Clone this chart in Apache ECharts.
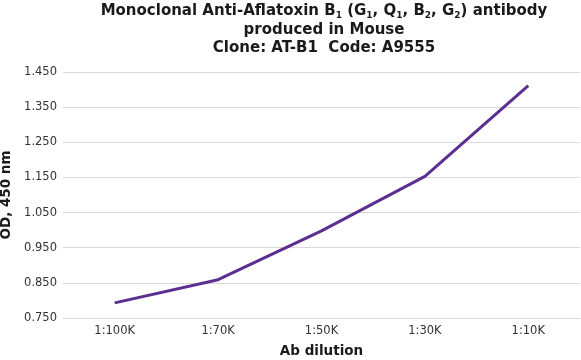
<!DOCTYPE html>
<html>
<head>
<meta charset="utf-8">
<script src="https://cdn.jsdelivr.net/npm/echarts@6/dist/echarts.min.js"></script>
<style>html,body{margin:0;padding:0;background:#fff}#c{width:581px;height:360px}</style>
</head>
<body>
<div id="c"></div>
<script>
var categories = ['1:100K', '1:70K', '1:50K', '1:30K', '1:10K'];
var odValues = [0.793, 0.859, 0.998, 1.153, 1.411];
var yMin = 0.75, yMax = 1.45, yStep = 0.1;

var chart = echarts.init(document.getElementById('c'), null, {renderer: 'canvas'});
var F = '"DejaVu Sans", Verdana, sans-serif';
var tStyle = {
  fontFamily: F, fontWeight: 'bold', fontSize: 15, color: '#1a1a1a',
  rich: {
    n: {fontFamily: F, fontWeight: 'bold', fontSize: 15, color: '#1a1a1a', lineHeight: 18},
    s: {fontFamily: F, fontWeight: 'bold', fontSize: 9, color: '#1a1a1a', lineHeight: 18, verticalAlign: 'bottom', padding: [8, 0, 0, 0]}
  }
};
chart.setOption({
  animation: false,
  backgroundColor: '#ffffff',
  title: [
    {text: '{n|Monoclonal Anti-Aflatoxin B}{s|1}{n| (G}{s|1}{n|, Q}{s|1}{n|, B}{s|2}{n|, G}{s|2}{n|) antibody}', left: 324, textAlign: 'center', top: 2, padding: 0, textStyle: tStyle},
    {text: 'produced in Mouse', left: 324, textAlign: 'center', top: 23, padding: 0, textStyle: tStyle},
    {text: 'Clone: AT-B1  Code: A9555', left: 324, textAlign: 'center', top: 41, padding: 0, textStyle: tStyle}
  ],
  grid: {left: 63, right: 1, top: 72, bottom: 42, containLabel: false, outerBoundsMode: 'none'},
  xAxis: {
    type: 'category',
    data: categories,
    boundaryGap: true,
    name: 'Ab dilution',
    nameLocation: 'middle',
    nameGap: 26,
    nameTextStyle: {fontFamily: F, fontWeight: 'bold', fontSize: 13.5, color: '#1a1a1a'},
    axisLine: {show: true, lineStyle: {color: '#d9d9d9', width: 1}},
    axisTick: {show: false},
    axisLabel: {fontFamily: F, fontSize: 11.5, color: '#333333', margin: 7}
  },
  yAxis: {
    type: 'value',
    min: yMin,
    max: yMax,
    interval: yStep,
    name: 'OD, 450 nm',
    nameLocation: 'middle',
    nameGap: 39,
    nameTextStyle: {fontFamily: F, fontWeight: 'bold', fontSize: 13.5, color: '#1a1a1a'},
    axisLine: {show: false},
    axisTick: {show: false},
    axisLabel: {fontFamily: F, fontSize: 11.5, color: '#333333', margin: 6, formatter: function (v) { return v.toFixed(3); }},
    splitLine: {show: true, lineStyle: {color: '#d9d9d9', width: 1}}
  },
  series: [{
    type: 'line',
    data: odValues,
    symbol: 'none',
    lineStyle: {color: '#5b2f91', width: 3},
    itemStyle: {color: '#5b2f91'}
  }]
});
</script>
</body>
</html>
